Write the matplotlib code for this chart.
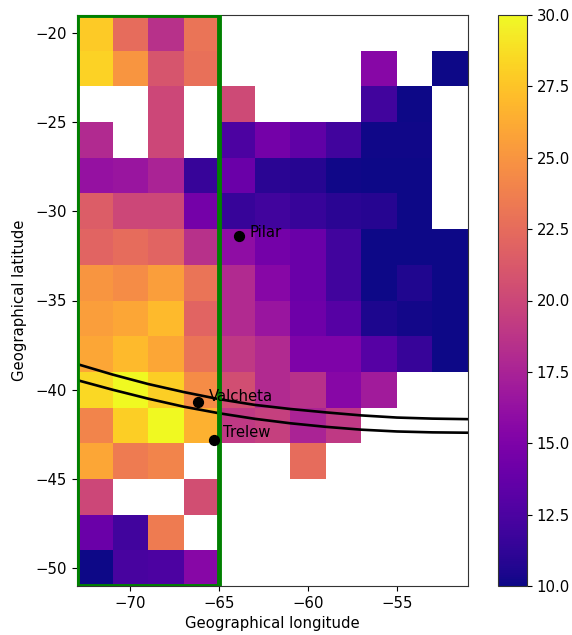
import numpy as np
import matplotlib
matplotlib.use('Agg')
import matplotlib.pyplot as plt
from matplotlib.patches import Rectangle

nan = float('nan')

# cell edges of the lon/lat grid
lon_edges = [-73, -71, -69, -67, -65, -63, -61, -59, -57, -55, -53, -51]
lat_edges = [-19, -21, -23, -25, -27, -29, -31, -33, -35, -37, -39, -41, -43, -45, -47, -49, -51]

# one row per latitude, north to south
row_20 = [27.8, 22.5, 18.5, 23.0, nan, nan, nan, nan, nan, nan, nan]
row_22 = [28.2, 25.0, 21.0, 22.8, nan, nan, nan, nan, 15.5, nan, 10.0]
row_24 = [nan, nan, 20.0, nan, 20.2, nan, nan, nan, 12.0, 10.05, nan]
row_26 = [18.0, nan, 20.0, nan, 12.5, 14.5, 13.5, 12.0, 10.1, 10.1, nan]
row_28 = [16.3, 16.5, 17.5, 11.5, 14.0, 11.0, 10.8, 10.1, 10.05, 10.05, nan]
row_30 = [21.5, 20.0, 20.0, 14.5, 11.5, 12.0, 11.5, 11.0, 10.8, 10.05, nan]
row_32 = [22.0, 22.5, 22.0, 18.5, 16.0, 14.5, 14.0, 12.0, 10.05, 10.05, 10.05]
row_34 = [25.0, 24.5, 25.5, 23.0, 18.0, 15.5, 14.0, 12.0, 10.05, 10.6, 10.05]
row_36 = [25.5, 26.0, 27.0, 22.0, 18.0, 16.5, 14.2, 13.0, 10.5, 10.2, 10.05]
row_38 = [26.0, 27.0, 26.0, 23.0, 19.0, 18.0, 15.0, 15.0, 13.0, 11.5, 10.05]
row_40 = [28.5, 30.0, 28.0, 24.5, 20.5, 18.0, 18.5, 15.5, 17.0, nan, nan]
row_42 = [24.0, 28.0, 30.0, 26.5, 19.0, 19.5, 17.5, 19.0, nan, nan, nan]
row_44 = [26.0, 23.5, 24.0, nan, nan, nan, 22.5, nan, nan, nan, nan]
row_46 = [20.0, nan, nan, 20.5, nan, nan, nan, nan, nan, nan, nan]
row_48 = [14.0, 12.0, 23.5, nan, nan, nan, nan, nan, nan, nan, nan]
row_50 = [10.0, 12.3, 12.5, 15.5, nan, nan, nan, nan, nan, nan, nan]

grid = np.array([row_20, row_22, row_24, row_26, row_28, row_30, row_32, row_34,
                 row_36, row_38, row_40, row_42, row_44, row_46, row_48, row_50])

# the two curved tracks, read every 2 degrees
track_lon = [-73, -71, -69, -67, -65, -63, -61, -59, -57, -55, -53, -51]
upper_lat = [-38.56, -39.15, -39.68, -40.13, -40.53, -40.85, -41.08, -41.27, -41.44, -41.56, -41.62, -41.65]
lower_lat = [-39.46, -40.0, -40.5, -40.95, -41.32, -41.63, -41.88, -42.08, -42.24, -42.34, -42.39, -42.41]

# stations
station_names = ["Pilar", "Valcheta", "Trelew"]
station_lon = [-63.9, -66.2, -65.3]
station_lat = [-31.4, -40.7, -42.8]
label_lon = [-63.3, -65.6, -64.8]
label_lat = [-31.2, -40.4, -42.4]

cbar_ticks = [10.0, 12.5, 15.0, 17.5, 20.0, 22.5, 25.0, 27.5, 30.0]

W, H = 572, 635
fig = plt.figure(figsize=(W / 100, H / 100), dpi=100)
ax = fig.add_axes([77 / W, 1 - 586 / H, 391 / W, 571 / H])
cax = fig.add_axes([498 / W, 1 - 586 / H, 29 / W, 571 / H])

mesh = ax.pcolormesh(lon_edges, lat_edges, grid, cmap='plasma', vmin=10, vmax=30)
cb = fig.colorbar(mesh, cax=cax)
cb.set_ticks(cbar_ticks)
cb.set_ticklabels([f"{t:.1f}" for t in cbar_ticks])

ax.plot(track_lon, upper_lat, color='black', linewidth=1.9)
ax.plot(track_lon, lower_lat, color='black', linewidth=1.9)

ax.add_patch(Rectangle((-73, -51), 8, 32, fill=False, edgecolor='green', linewidth=3.5, zorder=3))

ax.scatter(station_lon, station_lat, color='black', s=50, zorder=4)
for name, x, y in zip(station_names, label_lon, label_lat):
    ax.text(x, y, name, fontsize=10.7, ha='left', va='center', color='black', zorder=5)

ax.set_xlim(-73, -51)
ax.set_ylim(-51, -19)
ax.set_xticks([-70, -65, -60, -55])
ax.set_yticks([-50, -45, -40, -35, -30, -25, -20])
ax.tick_params(labelsize=10.7)
cax.tick_params(labelsize=10.7)
ax.set_xlabel("Geographical longitude", fontsize=10.7, labelpad=4)
ax.set_ylabel("Geographical latitude", fontsize=10.7, labelpad=6)

for spine in list(ax.spines.values()) + list(cax.spines.values()):
    spine.set_edgecolor('#333333')

fig.savefig('out.png', dpi=100)
